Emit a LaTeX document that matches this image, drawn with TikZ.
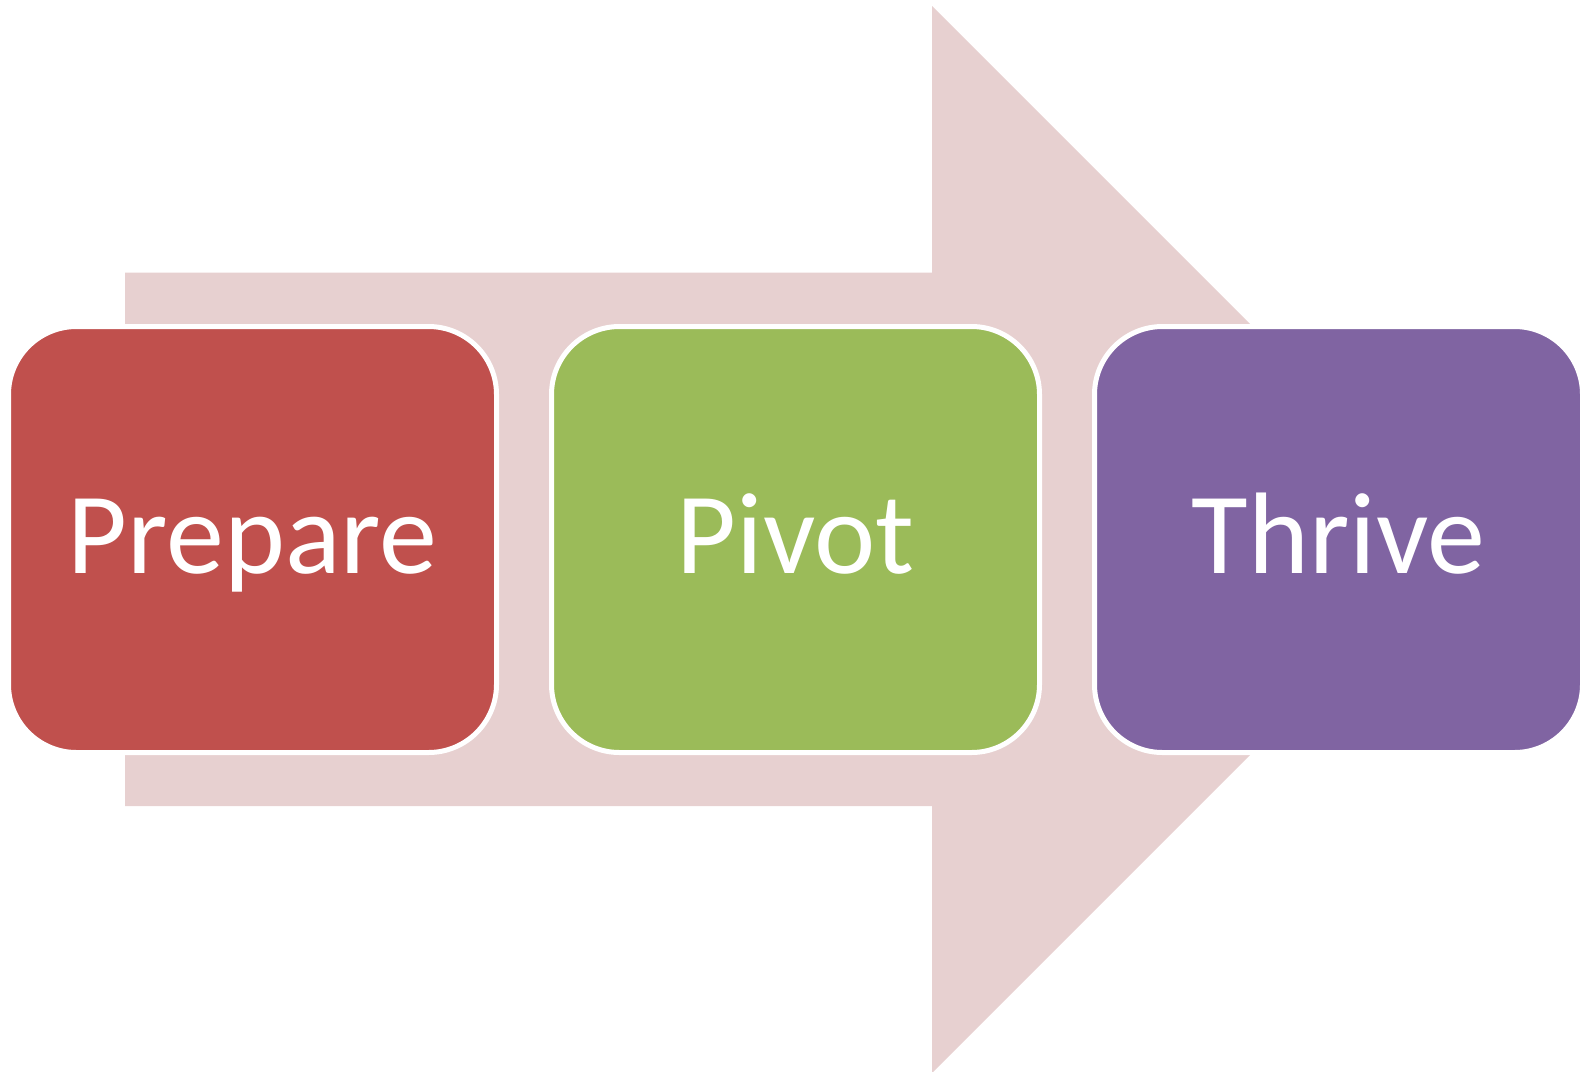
\documentclass[tikz,border=0pt]{standalone}
\usepackage{fontspec}
\setmainfont{Carlito}
\definecolor{arrowpink}{HTML}{E7D0D0}
\definecolor{boxred}{HTML}{C0504D}
\definecolor{boxgreen}{HTML}{9BBB59}
\definecolor{boxpurple}{HTML}{8064A2}
\begin{document}
\begin{tikzpicture}[x=1pt,y=-1pt,
  stagebox/.style={draw=white, line width=5pt, rounded corners=68pt,
    minimum width=488pt, minimum height=426pt, inner sep=0pt,
    text=white, text height=68pt, text depth=0pt,
    font=\fontsize{116}{120}\selectfont}]
\useasboundingbox (0,0) rectangle (1587,1071);
% big background arrow
\fill[arrowpink] (125,272.7) -- (932,272.7) -- (932,6) -- (1465.5,539.5)
  -- (932,1073) -- (932,806) -- (125,806) -- cycle;
\node[stagebox, fill=boxred] (prepare) at (252.5,539.5) {Prepare};
\node[stagebox, fill=boxgreen] (pivot) at (795.5,539.5) {Pivot};
\node[stagebox, fill=boxpurple] (thrive) at (1338.5,539.5) {Thrive};
\end{tikzpicture}
\end{document}
